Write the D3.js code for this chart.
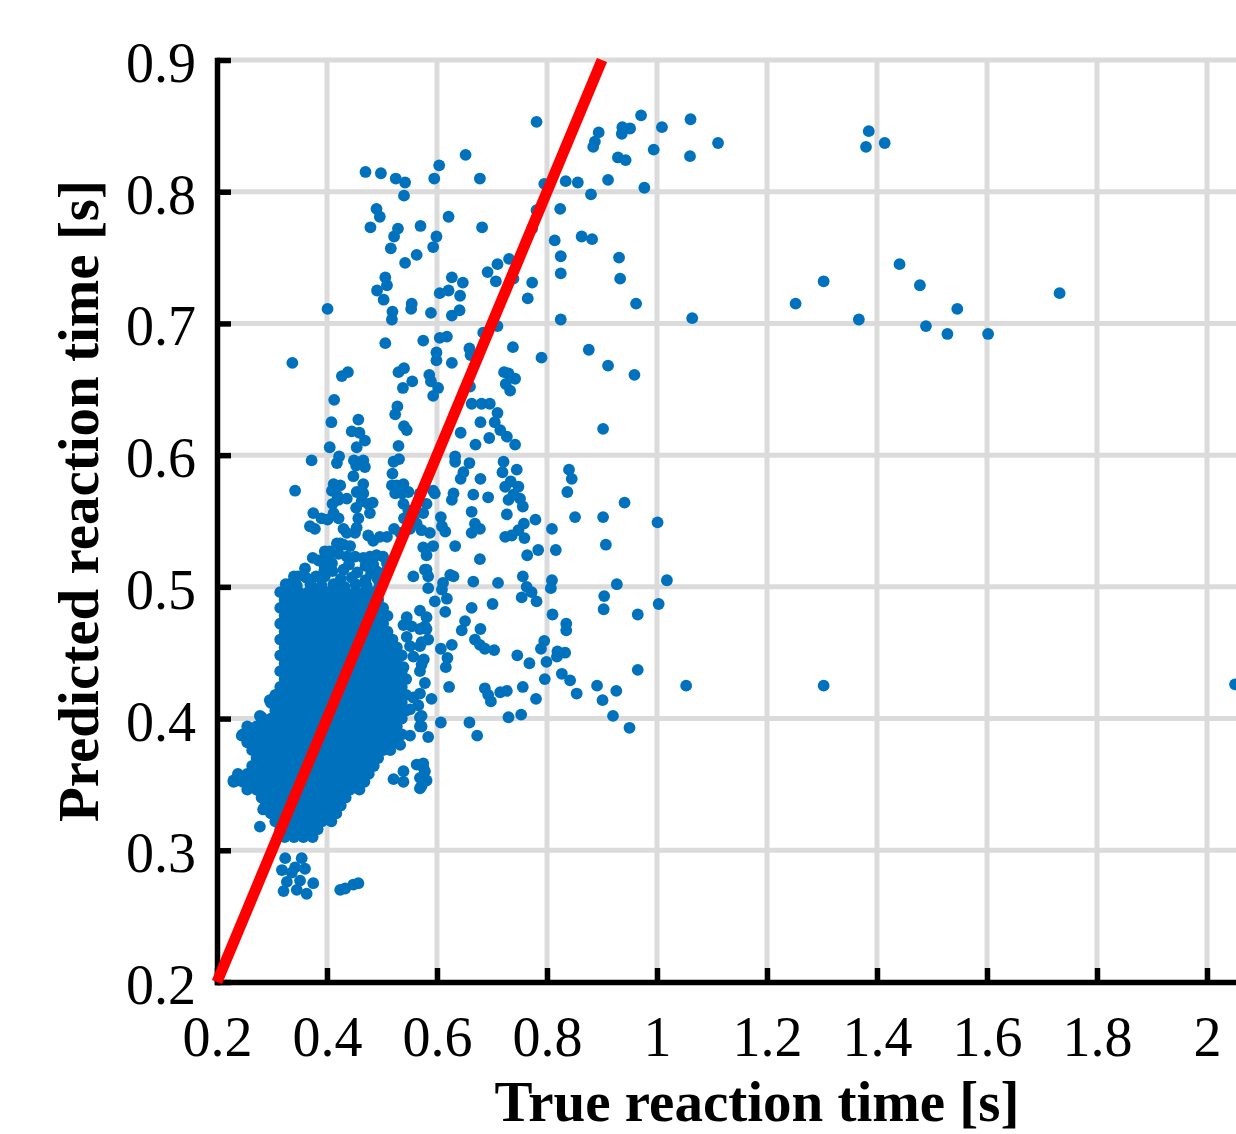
<!DOCTYPE html>
<html>
<head>
<meta charset="UTF-8">
<title>Predicted vs true reaction time</title>
<script src="https://cdn.jsdelivr.net/npm/d3@7"></script>
<style>
    body { margin: 0; background: #fff; }
    svg { display: block; background: #fff; }
    .grid line { stroke: #dbdbdb; stroke-width: 5px; }
    .axis path, .axis line { stroke: #000; stroke-width: 5.5px; }
    .axis path { stroke-linecap: square; }
    .axis text { font-family: "Liberation Serif", "Times New Roman", serif; font-size: 56px; fill: #000; }
    .dots circle { fill: #0072bd; }
    .fit { fill: none; stroke: #ff0000; stroke-width: 11px; }
    .label { font-family: "Liberation Serif", "Times New Roman", serif; font-size: 57px; font-weight: bold; fill: #000; }
</style>
</head>
<body>
<svg width="1236" height="1134"></svg>
<script>
// axis ticks (the axis runs on to 2.2, past the right edge)
var xTicks = [0.2, 0.4, 0.6, 0.8, 1, 1.2, 1.4, 1.6, 1.8, 2];
var yTicks = [0.2, 0.3, 0.4, 0.5, 0.6, 0.7, 0.8, 0.9];
var xMax = 2.2;
var identityLine = [[0.2, 0.2], [0.9, 0.9]];

// points far to the right of the main cloud
var farPoints = [
    [1.111,0.837],[1.385,0.846],[1.380,0.834],[1.414,0.837],[1.303,0.732],[1.252,0.715],[1.367,0.703],
    [1.441,0.745],[1.478,0.729],[1.546,0.711],[1.489,0.698],[1.528,0.692],[1.602,0.692],[1.732,0.723],
    [1.061,0.855],[1.060,0.827],[1.064,0.704],[1.053,0.425],[1.303,0.425],[2.051,0.426]
];

// sparse points above 0.64
var upperPoints = [
    [0.781,0.853],[0.894,0.845],[0.937,0.849],[0.951,0.848],[0.936,0.844],[0.971,0.858],[1.009,0.849],
    [0.887,0.838],[0.884,0.834],[0.929,0.826],[0.943,0.824],[0.994,0.832],[0.652,0.828],[0.604,0.820],
    [0.595,0.810],[0.678,0.810],[0.542,0.807],[0.540,0.797],[0.795,0.806],[0.834,0.808],[0.856,0.807],
    [0.911,0.809],[0.977,0.803],[0.880,0.798],[0.824,0.787],[0.781,0.786],[0.621,0.781],[0.570,0.774],
    [0.682,0.773],[0.773,0.772],[0.599,0.766],[0.593,0.758],[0.814,0.763],[0.863,0.766],[0.882,0.764],
    [0.563,0.752],[0.542,0.746],[0.825,0.751],[0.825,0.738],[0.931,0.750],[0.933,0.734],[0.731,0.749],
    [0.710,0.745],[0.692,0.739],[0.707,0.732],[0.739,0.734],[0.773,0.731],[0.765,0.719],[0.627,0.735],
    [0.647,0.731],[0.605,0.723],[0.621,0.725],[0.642,0.721],[0.554,0.715],[0.553,0.711],[0.589,0.708],
    [0.627,0.706],[0.641,0.710],[0.962,0.715],[0.825,0.703],[0.710,0.698],[0.684,0.693],[0.575,0.687],
    [0.605,0.689],[0.618,0.690],[0.659,0.681],[0.661,0.676],[0.738,0.682],[0.790,0.674],[0.876,0.680],
    [0.911,0.668],[0.959,0.661],[0.599,0.678],[0.599,0.672],[0.627,0.670],[0.540,0.666],[0.555,0.656],
    [0.586,0.661],[0.589,0.656],[0.602,0.651],[0.593,0.645],[0.538,0.651],[0.722,0.663],[0.730,0.662],
    [0.742,0.658],[0.725,0.654],[0.733,0.649],[0.660,0.652],
    [0.470,0.815],[0.498,0.814],[0.525,0.810],[0.490,0.787],[0.496,0.781],[0.479,0.773],[0.529,0.772],
    [0.522,0.766],[0.516,0.757],[0.506,0.735],[0.509,0.729],[0.491,0.725],[0.503,0.718],[0.401,0.711],
    [0.519,0.709],[0.518,0.703],[0.506,0.685],[0.337,0.670],[0.427,0.660],[0.438,0.663],[0.530,0.663],
    [0.413,0.642]
];

// sparse points between 0.38 and 0.64, right of the dense cloud
var middlePoints = [
    [0.902,0.620],[0.941,0.564],[0.902,0.553],[1.001,0.549],[0.907,0.532],[0.927,0.502],[1.018,0.505],
    [0.904,0.493],[0.903,0.483],[1.003,0.487],[0.965,0.479],[0.965,0.437],[0.891,0.425],[0.926,0.421],
    [0.901,0.414],[0.920,0.402],[0.950,0.393],
    [0.663,0.639],[0.681,0.639],[0.696,0.639],[0.710,0.632],[0.705,0.625],[0.715,0.619],[0.727,0.614],
    [0.742,0.608],[0.679,0.625],[0.643,0.617],[0.695,0.613],[0.670,0.608],[0.633,0.599],[0.633,0.595],
    [0.659,0.594],[0.648,0.587],[0.643,0.582],[0.679,0.582],[0.721,0.595],[0.719,0.587],[0.745,0.589],
    [0.734,0.580],[0.748,0.576],[0.724,0.576],[0.739,0.570],[0.730,0.566],[0.751,0.567],[0.756,0.561],
    [0.840,0.589],[0.845,0.582],[0.837,0.572],[0.630,0.571],[0.627,0.566],[0.666,0.570],[0.693,0.568],
    [0.663,0.557],[0.727,0.555],[0.779,0.551],[0.851,0.553],[0.607,0.553],[0.609,0.546],[0.615,0.542],
    [0.669,0.548],[0.678,0.544],[0.663,0.541],[0.758,0.548],[0.748,0.543],[0.736,0.539],[0.724,0.538],
    [0.759,0.537],[0.809,0.544],[0.633,0.531],[0.784,0.528],[0.764,0.524],[0.816,0.528],[0.678,0.521],
    [0.575,0.530],[0.593,0.531],[0.581,0.524],[0.578,0.513],[0.584,0.508],[0.584,0.499],[0.630,0.508],
    [0.666,0.504],[0.711,0.503],[0.756,0.508],[0.763,0.500],[0.772,0.496],[0.754,0.492],[0.781,0.489],
    [0.809,0.505],[0.807,0.499],[0.609,0.498],[0.618,0.491],[0.596,0.489],[0.615,0.481],[0.663,0.484],
    [0.701,0.487],[0.651,0.474],[0.645,0.467],[0.679,0.468],[0.810,0.479],[0.835,0.472],[0.835,0.467],
    [0.669,0.460],[0.678,0.456],[0.687,0.453],[0.704,0.452],[0.627,0.456],[0.607,0.453],[0.619,0.446],
    [0.616,0.439],[0.746,0.448],[0.768,0.442],[0.795,0.459],[0.789,0.453],[0.799,0.443],[0.796,0.430],
    [0.819,0.451],[0.833,0.450],[0.818,0.447],[0.827,0.434],[0.842,0.429],[0.854,0.419],[0.622,0.424],
    [0.590,0.415],[0.687,0.423],[0.693,0.418],[0.698,0.413],[0.715,0.420],[0.727,0.421],[0.756,0.424],
    [0.780,0.415],[0.730,0.401],[0.753,0.403],[0.659,0.397],[0.673,0.387],[0.607,0.397],[0.584,0.386],
    [0.578,0.427],[0.569,0.419],[0.572,0.402],[0.572,0.394]
];

// points around the edge of the dense cloud
var edgePoints = [
    [0.528,0.637],[0.524,0.631],[0.457,0.627],[0.408,0.625],[0.445,0.618],[0.459,0.617],[0.469,0.611],
    [0.454,0.606],[0.540,0.622],[0.545,0.619],[0.530,0.607],[0.405,0.606],[0.372,0.596],[0.422,0.599],
    [0.418,0.594],[0.449,0.596],[0.466,0.596],[0.453,0.592],[0.469,0.591],[0.521,0.595],[0.531,0.597],
    [0.519,0.586],[0.342,0.573],[0.412,0.578],[0.424,0.577],[0.409,0.573],[0.419,0.569],[0.436,0.567],
    [0.448,0.584],[0.466,0.578],[0.454,0.572],[0.466,0.571],[0.463,0.565],[0.453,0.560],[0.475,0.563],
    [0.483,0.564],[0.478,0.556],[0.457,0.552],[0.518,0.577],[0.527,0.577],[0.539,0.578],[0.524,0.571],
    [0.536,0.571],[0.548,0.572],[0.410,0.563],[0.421,0.566],[0.412,0.556],[0.421,0.552],[0.401,0.551],
    [0.375,0.556],[0.369,0.546],[0.378,0.544],[0.390,0.552],[0.430,0.544],[0.436,0.541],[0.451,0.541],
    [0.454,0.545],[0.475,0.539],[0.484,0.535],[0.496,0.538],[0.509,0.538],[0.522,0.544],[0.533,0.541],
    [0.539,0.563],[0.548,0.558],[0.557,0.552],[0.563,0.548],[0.540,0.552],[0.551,0.544],[0.569,0.571],
    [0.581,0.563],[0.575,0.556],[0.593,0.573],[0.572,0.543],[0.587,0.541],[0.596,0.571],
    [0.374,0.522],[0.396,0.527],[0.402,0.523],[0.409,0.518],[0.395,0.512],[0.396,0.508],
    [0.418,0.533],[0.430,0.532],[0.442,0.531],[0.421,0.525],[0.436,0.523],[0.451,0.523],[0.466,0.522],
    [0.478,0.523],[0.490,0.524],[0.502,0.523],[0.509,0.518],[0.484,0.517],[0.347,0.508],[0.396,0.515],
    [0.405,0.527],[0.424,0.533],[0.336,0.503],
    [0.385,0.520],[0.405,0.519],[0.440,0.517],[0.470,0.516],[0.490,0.512],
    [0.360,0.514],[0.410,0.512],[0.430,0.513],[0.455,0.511],[0.480,0.510],[0.505,0.511],
    [0.340,0.508],[0.362,0.507],[0.380,0.508],[0.425,0.506],[0.445,0.507],[0.470,0.505],[0.492,0.506],
    [0.325,0.502],[0.345,0.501],[0.370,0.502],[0.390,0.501],[0.412,0.502],[0.432,0.500],[0.452,0.502],
    [0.472,0.501],[0.495,0.500],
    [0.557,0.508],[0.581,0.513],[0.611,0.503],[0.624,0.509],[0.569,0.482],[0.581,0.477],[0.545,0.477],
    [0.539,0.471],[0.554,0.470],[0.569,0.468],[0.581,0.468],[0.584,0.460],[0.545,0.462],[0.551,0.455],
    [0.569,0.455],[0.557,0.447],[0.572,0.441],[0.539,0.439],[0.521,0.447],[0.578,0.470],[0.572,0.458],
    [0.576,0.445],[0.569,0.436],
    [0.569,0.401],[0.551,0.387],[0.521,0.354],[0.539,0.360],[0.539,0.352],[0.563,0.365],[0.575,0.366],
    [0.578,0.360],[0.569,0.355],[0.581,0.353],[0.569,0.347],[0.533,0.380],[0.515,0.376],[0.551,0.407],
    [0.557,0.416],[0.566,0.410],[0.569,0.394],[0.575,0.363],[0.572,0.349],
    [0.296,0.414],[0.278,0.402],[0.281,0.401],[0.245,0.387],[0.260,0.390],[0.236,0.353],[0.284,0.331],
    [0.278,0.318],[0.230,0.353],[0.287,0.333]
];

// two small groups under the main cloud
var lowPoints = [
    [0.324,0.294],[0.354,0.294],[0.318,0.285],[0.342,0.287],[0.360,0.286],[0.327,0.276],[0.351,0.277],
    [0.375,0.275],[0.321,0.269],[0.345,0.270],[0.363,0.267],[0.336,0.283],
    [0.433,0.271],[0.448,0.274],[0.457,0.275],[0.424,0.270]
];

// dense cloud, one row per predicted value
var coreRows = [
    [0.496, [0.315,0.332,0.349,0.366,0.383,0.400,0.417,0.434,0.451,0.468,0.485]],
    [0.490, [0.323,0.340,0.357,0.374,0.391,0.408,0.425,0.442,0.459,0.476,0.493]],
    [0.484, [0.315,0.332,0.349,0.366,0.383,0.400,0.417,0.434,0.451,0.468,0.485,0.502]],
    [0.478, [0.323,0.340,0.357,0.374,0.391,0.408,0.425,0.442,0.459,0.476,0.493,0.510]],
    [0.472, [0.315,0.332,0.349,0.366,0.383,0.400,0.417,0.434,0.451,0.468,0.485,0.502]],
    [0.466, [0.323,0.340,0.357,0.374,0.391,0.408,0.425,0.442,0.459,0.476,0.493,0.510]],
    [0.460, [0.315,0.332,0.349,0.366,0.383,0.400,0.417,0.434,0.451,0.468,0.485,0.502,0.519]],
    [0.454, [0.323,0.340,0.357,0.374,0.391,0.408,0.425,0.442,0.459,0.476,0.493,0.510,0.527]],
    [0.448, [0.315,0.332,0.349,0.366,0.383,0.400,0.417,0.434,0.451,0.468,0.485,0.502,0.519,0.536]],
    [0.442, [0.323,0.340,0.357,0.374,0.391,0.408,0.425,0.442,0.459,0.476,0.493,0.510,0.527]],
    [0.436, [0.315,0.332,0.349,0.366,0.383,0.400,0.417,0.434,0.451,0.468,0.485,0.502,0.519,0.536]],
    [0.430, [0.323,0.340,0.357,0.374,0.391,0.408,0.425,0.442,0.459,0.476,0.493,0.510,0.527,0.544]],
    [0.424, [0.315,0.332,0.349,0.366,0.383,0.400,0.417,0.434,0.451,0.468,0.485,0.502,0.519,0.536]],
    [0.418, [0.306,0.323,0.340,0.357,0.374,0.391,0.408,0.425,0.442,0.459,0.476,0.493,0.510,0.527,0.544]],
    [0.412, [0.298,0.315,0.332,0.349,0.366,0.383,0.400,0.417,0.434,0.451,0.468,0.485,0.502,0.519,0.536]],
    [0.406, [0.306,0.323,0.340,0.357,0.374,0.391,0.408,0.425,0.442,0.459,0.476,0.493,0.510,0.527,0.544]],
    [0.400, [0.281,0.298,0.315,0.332,0.349,0.366,0.383,0.400,0.417,0.434,0.451,0.468,0.485,0.502,0.519,0.536]],
    [0.394, [0.255,0.272,0.289,0.306,0.323,0.340,0.357,0.374,0.391,0.408,0.425,0.442,0.459,0.476,0.493,0.510,0.527]],
    [0.388, [0.247,0.264,0.281,0.298,0.315,0.332,0.349,0.366,0.383,0.400,0.417,0.434,0.451,0.468,0.485,0.502,0.519,0.536]],
    [0.382, [0.255,0.272,0.289,0.306,0.323,0.340,0.357,0.374,0.391,0.408,0.425,0.442,0.459,0.476,0.493,0.510,0.527]],
    [0.376, [0.264,0.281,0.298,0.315,0.332,0.349,0.366,0.383,0.400,0.417,0.434,0.451,0.468,0.485,0.502]],
    [0.370, [0.272,0.289,0.306,0.323,0.340,0.357,0.374,0.391,0.408,0.425,0.442,0.459,0.476,0.493]],
    [0.364, [0.264,0.281,0.298,0.315,0.332,0.349,0.366,0.383,0.400,0.417,0.434,0.451,0.468,0.485]],
    [0.358, [0.238,0.255,0.272,0.289,0.306,0.323,0.340,0.357,0.374,0.391,0.408,0.425,0.442,0.459,0.476]],
    [0.352, [0.230,0.247,0.264,0.281,0.298,0.315,0.332,0.349,0.366,0.383,0.400,0.417,0.434,0.451,0.468]],
    [0.346, [0.255,0.272,0.289,0.306,0.323,0.340,0.357,0.374,0.391,0.408,0.425,0.442,0.459]],
    [0.340, [0.281,0.298,0.315,0.332,0.349,0.366,0.383,0.400,0.417,0.434]],
    [0.334, [0.289,0.306,0.323,0.340,0.357,0.374,0.391,0.408,0.425]],
    [0.328, [0.298,0.315,0.332,0.349,0.366,0.383,0.400,0.417]],
    [0.322, [0.306,0.323,0.340,0.357,0.374,0.391,0.408]],
    [0.316, [0.315,0.332,0.349,0.366,0.383]],
    [0.310, [0.323,0.340,0.357,0.374]]
];

var corePoints = coreRows.flatMap(function (row) {
    return row[1].map(function (x) { return [x, row[0]]; });
});
var allPoints = [].concat(corePoints, edgePoints, lowPoints, middlePoints, upperPoints, farPoints);

var svg = d3.select('svg');

var x = d3.scaleLinear().domain([0.2, xMax]).range([217, 1317]);
var y = d3.scaleLinear().domain([0.2, 0.9]).range([982, 60]);

// grid
var grid = svg.append('g').attr('class', 'grid');
grid.selectAll('line.gx')
    .data(xTicks.slice(1))
    .enter().append('line')
    .attr('class', 'gx')
    .attr('x1', function (d) { return x(d); })
    .attr('x2', function (d) { return x(d); })
    .attr('y1', y(0.2))
    .attr('y2', y(0.9));
grid.selectAll('line.gy')
    .data(yTicks.slice(1))
    .enter().append('line')
    .attr('class', 'gy')
    .attr('x1', x(0.2))
    .attr('x2', x(xMax))
    .attr('y1', function (d) { return y(d); })
    .attr('y2', function (d) { return y(d); });

// axes
svg.append('g')
    .attr('class', 'axis axis-x')
    .attr('transform', 'translate(0,' + y(0.2) + ')')
    .call(d3.axisBottom(x).tickValues(xTicks).tickFormat(d3.format('~g'))
        .tickSizeInner(-14).tickSizeOuter(0).tickPadding(34));

var gy = svg.append('g')
    .attr('class', 'axis axis-y')
    .attr('transform', 'translate(' + x(0.2) + ',0)')
    .call(d3.axisLeft(y).tickValues(yTicks).tickFormat(d3.format('.1f'))
        .tickSizeInner(-14).tickSizeOuter(0).tickPadding(21));
gy.selectAll('text').attr('dy', '0.385em');

// scatter
svg.append('g')
    .attr('class', 'dots')
    .selectAll('circle')
    .data(allPoints)
    .enter().append('circle')
    .attr('cx', function (d) { return x(d[0]); })
    .attr('cy', function (d) { return y(d[1]); })
    .attr('r', 5.9);

// y = x reference line
svg.append('path')
    .datum(identityLine)
    .attr('class', 'fit')
    .attr('d', d3.line().x(function (d) { return x(d[0]); }).y(function (d) { return y(d[1]); }));

// axis labels
svg.append('text')
    .attr('class', 'label')
    .attr('x', 757)
    .attr('y', 1121)
    .attr('text-anchor', 'middle')
    .text('True reaction time [s]');

svg.append('text')
    .attr('class', 'label')
    .attr('transform', 'translate(98,501) rotate(-90)')
    .attr('text-anchor', 'middle')
    .text('Predicted reaction time [s]');
</script>
</body>
</html>
